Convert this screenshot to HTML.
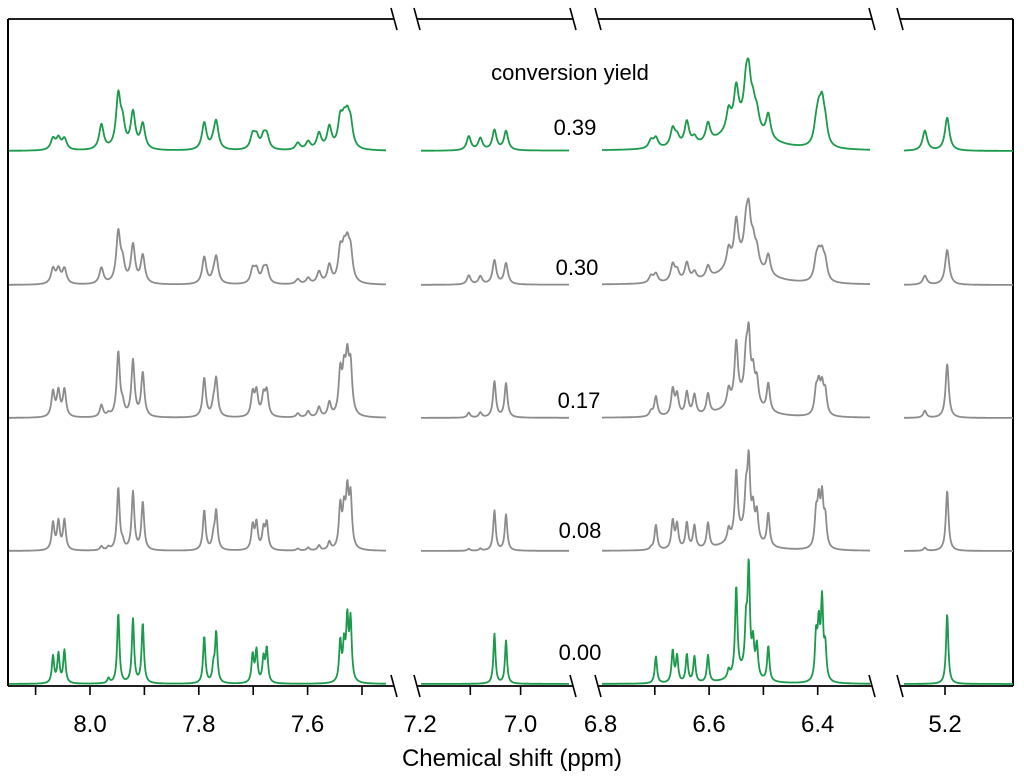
<!DOCTYPE html>
<html><head><meta charset="utf-8"><style>
html,body{margin:0;padding:0;background:#fff;}
svg{display:block;font-family:"Liberation Sans",sans-serif;}
</style></head><body>
<svg id="chart" width="1024" height="778" viewBox="0 0 1024 778">
<g id="frame"></g>
<g id="traces"></g>
<g id="labels">
<text x="570" y="80" font-size="22" text-anchor="middle">conversion yield</text>
<text x="575" y="135" font-size="22" text-anchor="middle">0.39</text>
<text x="577" y="275" font-size="22" text-anchor="middle">0.30</text>
<text x="579" y="408" font-size="22" text-anchor="middle">0.17</text>
<text x="580" y="538" font-size="22" text-anchor="middle">0.08</text>
<text x="580" y="660" font-size="22" text-anchor="middle">0.00</text>
<text x="512" y="766" font-size="24" text-anchor="middle">Chemical shift (ppm)</text>
</g>
</svg>
<script>
const peakPpm = [8.068,8.058,8.047,7.979,7.966,7.948,7.940,7.921,7.903,7.790,7.773,7.768,7.701,7.694,7.681,7.675,7.618,7.599,7.579,7.560,7.540,7.533,7.527,7.521,7.103,7.080,7.052,7.029,6.707,6.698,6.667,6.659,6.641,6.627,6.602,6.564,6.550,6.532,6.527,6.519,6.512,6.491,6.403,6.398,6.392,6.386,5.237,5.196,6.540];
const peakWidthFactor = [1,1,1,1,1,1,1,1,1,1,1,1,1,1,1,1,1,1,1,1,1,1,1,1,1,1,1,1,1,1,1,1,1,1,1,1,1,1,1,1,1,1,1,1,1,1,1,1,9];
const heights000 = [27,29,33,0,5,70,0,64,60,47,15,50,28,32,24,34,0,0,0,0,40,35,60,60,0,0,50,43,0,27,32,26,28,26,27,8,88,45,105,32,32,35,44,52,78,32,0,70,10];
const heights008 = [27,28,30,4,3,62,6,58,48,40,12,38,24,26,20,26,2,3,5,8,42,35,52,50,2,2,40,36,2,25,28,24,26,23,25,12,65,38,72,28,28,33,32,42,48,28,3,60,16];
const heights017 = [25,25,27,12,3,64,10,56,44,39,10,37,23,24,20,24,4,6,10,14,42,38,50,46,5,5,36,34,5,20,26,20,23,20,20,16,58,38,60,28,24,28,22,26,26,22,7,54,18];
const heights030 = [15,14,15,16,0,50,18,38,28,27,5,26,14,13,12,14,5,6,12,18,30,25,30,28,9,8,24,21,7,9,17,10,18,8,12,18,42,30,44,20,16,20,17,20,22,17,9,35,22];
const heights039 = [11,11,11,25,0,52,22,36,25,27,5,27,14,12,12,13,7,8,16,22,27,20,24,22,14,12,20,19,8,10,18,9,24,7,19,20,38,34,42,20,16,24,16,26,36,18,20,33,24];
const traceBaseline = [684,551,418,285,151];
const traceHalfWidth = [0.0025,0.003,0.0035,0.0045,0.005];
const traceNames = ['0.00','0.08','0.17','0.30','0.39'];
const tickLabels = ['8.0','7.8','7.6','7.2','7.0','6.8','6.6','6.4','5.2'];
const allHeights = [heights000,heights008,heights017,heights030,heights039];
const colors = ['#1b9a4b','#8c8c8c','#8c8c8c','#8c8c8c','#1b9a4b'];

const segs = [
 {ref:8.0, xr:90, k:544, x0:8, x1:388, ax0:8, ax1:394, ticks:[8.1,8.0,7.9,7.8,7.7,7.6,7.5]},
 {ref:7.2, xr:420, k:503, x0:420, x1:571, ax0:417, ax1:573, ticks:[7.1,7.0]},
 {ref:6.8, xr:600.5, k:543, x0:601, x1:872, ax0:598, ax1:872, ticks:[6.7,6.6,6.5,6.4]},
 {ref:5.2, xr:945, k:544, x0:903, x1:1013, ax0:900, ax1:1013, ticks:[5.2]}
];
function xOf(s,p){return s.xr+(s.ref-p)*s.k;}
function pOf(s,x){return s.ref-(x-s.xr)/s.k;}
const NS='http://www.w3.org/2000/svg';
function mk(tag,attrs,parent){const e=document.createElementNS(NS,tag);for(const a in attrs)e.setAttribute(a,attrs[a]);parent.appendChild(e);return e;}
const frame=document.getElementById('frame');
const traces=document.getElementById('traces');
const lb=mk('line',{x1:8,y1:19,x2:8,y2:686,stroke:'#000','stroke-width':2},frame);


const rb=mk('line',{x1:1013,y1:19,x2:1013,y2:686,stroke:'#000','stroke-width':2},frame);


segs.forEach((s,i)=>{
  [19,686].forEach(y=>{
    const l=mk('line',{x1:s.ax0,y1:y,x2:s.ax1,y2:y,stroke:'#000','stroke-width':1.8},frame);
    
    
    const ends=[];
    if(i>0) ends.push(s.ax0);
    if(i<segs.length-1) ends.push(s.ax1);
    ends.forEach(x=>{
      const b=mk('line',{x1:x-3,y1:y-11,x2:x+3,y2:y+11,stroke:'#000','stroke-width':1.6},frame);
      
      
    });
  });
  s.ticks.forEach(t=>{
    const x=xOf(s,t);
    const tk=mk('line',{x1:x,y1:686,x2:x,y2:695,stroke:'#000','stroke-width':1.6},frame);
    
    
  });
});
const labelPos=[[0,8.0],[0,7.8],[0,7.6],[1,7.2],[1,7.0],[2,6.8],[2,6.6],[2,6.4],[3,5.2]];
labelPos.forEach((lp,i)=>{
  const t=mk('text',{x:xOf(segs[lp[0]],lp[1]),y:732,'font-size':24,'text-anchor':'middle'},frame);
  t.textContent=tickLabels[i];
  
  
});
function intensity(ti,p){
  const h=allHeights[ti];let v=0;
  for(let j=0;j<peakPpm.length;j++){
    const w=traceHalfWidth[ti]*peakWidthFactor[j];
    const d=(p-peakPpm[j])/w;
    v+=h[j]/(1+d*d);
  }
  return v;
}
for(let ti=0;ti<traceBaseline.length;ti++){
  segs.forEach(s=>{
    let d='';
    const xe=s.x1-(s===segs[3]?0:2);
    for(let x=s.x0+1;x<=xe;x+=0.5){
      const y=traceBaseline[ti]-intensity(ti,pOf(s,x));
      d+=(d?'L':'M')+x.toFixed(1)+' '+y.toFixed(1);
    }
    const path=mk('path',{d:d,fill:'none',stroke:colors[ti],'stroke-width':1.8,'stroke-linejoin':'round'},traces);
    
    
  });
}
</script>
</body></html>
